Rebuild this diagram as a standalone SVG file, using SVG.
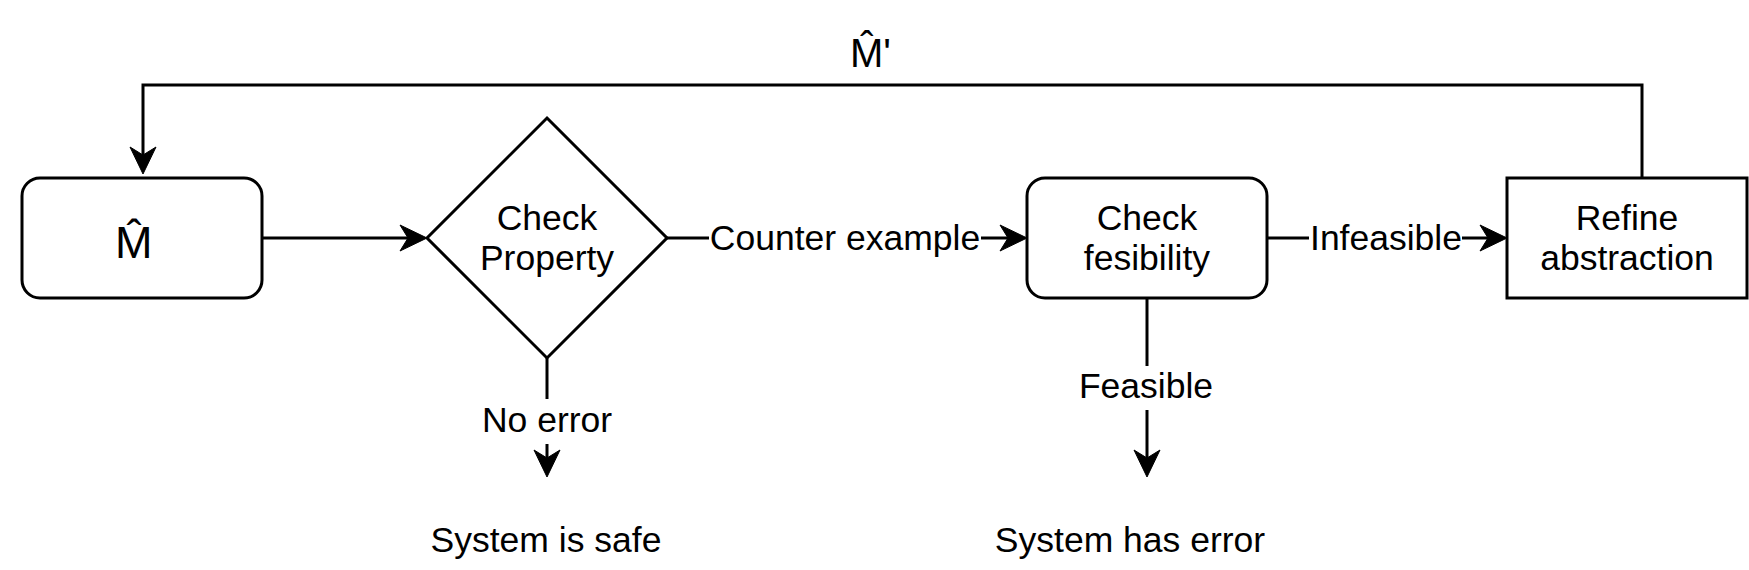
<svg xmlns="http://www.w3.org/2000/svg" width="1749" height="570" viewBox="0 0 1749 570">
<style>
.shape{fill:#fff;stroke:#000;stroke-width:3}
.edge{fill:none;stroke:#000;stroke-width:3}
text{font-family:"Liberation Sans",Arial,Helvetica,sans-serif;font-size:35.5px;fill:#000;text-anchor:middle}
.big{font-size:45px;text-anchor:start}
.top{font-size:40px;text-anchor:start}
.lbl{fill:#fff}
</style>
<defs>
<marker id="arr" markerUnits="userSpaceOnUse" markerWidth="40" markerHeight="40" refX="0" refY="0" orient="auto" overflow="visible">
<path d="M6,0 L-21,-13 L-13,0 L-21,13 Z" fill="#000" stroke="#000" stroke-width="1"/>
</marker>
</defs>
<rect width="1749" height="570" fill="#fff"/>
<g id="connectors">
<path class="edge" d="M262,238 L421,238" marker-end="url(#arr)"/>
<path class="edge" d="M667,238 L1021,238" marker-end="url(#arr)"/>
<path class="edge" d="M1267,238 L1501,238" marker-end="url(#arr)"/>
<path class="edge" d="M547,358 L547,471" marker-end="url(#arr)"/>
<path class="edge" d="M1147,298 L1147,471" marker-end="url(#arr)"/>
<path class="edge" d="M1642,178 L1642,85 L143,85 L143,168" marker-end="url(#arr)"/>
<rect class="lbl" x="709" y="218" width="272" height="40"/>
<text x="845" y="250">Counter example</text>
<rect class="lbl" x="1309" y="218" width="153" height="40"/>
<text x="1386" y="250">Infeasible</text>
<rect class="lbl" x="478" y="399" width="138" height="45"/>
<text x="547" y="432">No error</text>
<rect class="lbl" x="1075" y="366" width="144" height="44"/>
<text x="1146" y="398">Feasible</text>
<text class="top" x="850" y="67">M̂'</text>
</g>
<g id="node-m">
<rect class="shape" x="22" y="178" width="240" height="120" rx="18" ry="18"/>
<text class="big" x="115" y="258">M̂</text>
</g>
<g id="node-check-property">
<path class="shape" d="M547,118 L667,238 L547,358 L427,238 Z"/>
<text x="547" y="230">Check</text>
<text x="547" y="270">Property</text>
</g>
<g id="node-check-fesibility">
<rect class="shape" x="1027" y="178" width="240" height="120" rx="18" ry="18"/>
<text x="1147" y="230">Check</text>
<text x="1147" y="270">fesibility</text>
</g>
<g id="node-refine">
<rect class="shape" x="1507" y="178" width="240" height="120"/>
<text x="1627" y="230">Refine</text>
<text x="1627" y="270">abstraction</text>
</g>
<g id="node-safe">
<text x="546" y="552">System is safe</text>
</g>
<g id="node-error">
<text x="1130" y="552">System has error</text>
</g>
</svg>
